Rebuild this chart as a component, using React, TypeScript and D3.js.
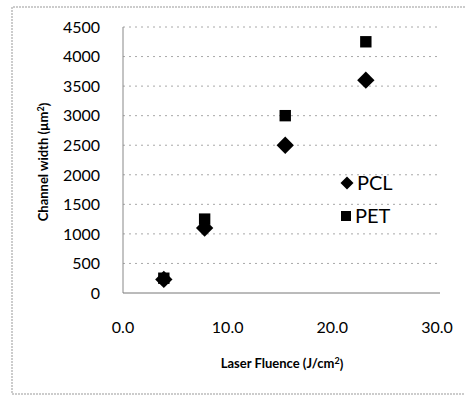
import React, { useEffect, useRef } from 'react';
import * as d3 from 'd3';

const fluence = [3.9, 7.8, 15.5, 23.2];
const pcl = [230, 1100, 2500, 3600];
const pet = [250, 1250, 3000, 4250];
const xTicks = [0, 10, 20, 30];
const yTicks = [0, 500, 1000, 1500, 2000, 2500, 3000, 3500, 4000, 4500];

const font = 'Lato, "Open Sans", sans-serif';

const App = () => {
  const ref = useRef<SVGSVGElement | null>(null);

  useEffect(() => {
    const svg = d3.select(ref.current);
    svg.selectAll('*').remove();

    const left = 123;
    const right = 437;
    const top = 27;
    const bottom = 293;

    const x = d3.scaleLinear().domain([0, 30]).range([left, right]);
    const y = d3.scaleLinear().domain([0, 4500]).range([bottom, top]);

    // outer frame (left, top, bottom only)
    svg.append('path')
      .attr('d', `M465,7 H12 V394 H465`)
      .attr('fill', 'none')
      .attr('stroke', '#999')
      .attr('stroke-width', 1)
      .attr('stroke-dasharray', '2,1');

    // grid
    svg.append('g')
      .selectAll('line')
      .data(yTicks.filter((d) => d > 0))
      .enter()
      .append('line')
      .attr('x1', left)
      .attr('x2', right)
      .attr('y1', (d) => y(d))
      .attr('y2', (d) => y(d))
      .attr('stroke', '#a8a8a8')
      .attr('stroke-width', 1)
      .attr('stroke-dasharray', '2,4');

    // axis lines
    svg.append('line')
      .attr('x1', left).attr('x2', left)
      .attr('y1', top).attr('y2', bottom)
      .attr('stroke', '#888').attr('stroke-width', 1);
    svg.append('line')
      .attr('x1', left).attr('x2', right + 3)
      .attr('y1', bottom).attr('y2', bottom)
      .attr('stroke', '#777').attr('stroke-width', 1);

    // y tick labels
    svg.append('g')
      .selectAll('text')
      .data(yTicks)
      .enter()
      .append('text')
      .attr('x', 100)
      .attr('y', (d) => y(d))
      .attr('dy', '0.36em')
      .attr('text-anchor', 'end')
      .style('font-family', font)
      .style('font-size', '16px')
      .style('fill', '#000')
      .text((d) => d);

    // x tick labels
    svg.append('g')
      .selectAll('text')
      .data(xTicks)
      .enter()
      .append('text')
      .attr('x', (d) => x(d))
      .attr('y', 327)
      .attr('dy', '0.36em')
      .attr('text-anchor', 'middle')
      .style('font-family', font)
      .style('font-size', '16px')
      .style('fill', '#000')
      .text((d) => d3.format('.1f')(d));

    // axis titles
    const xt = svg.append('text')
      .attr('x', 282)
      .attr('y', 363)
      .attr('dy', '0.36em')
      .attr('text-anchor', 'middle')
      .style('font-family', font)
      .style('font-size', '13px')
      .style('font-weight', 'bold')
      .style('fill', '#000');
    xt.append('tspan').text('Laser Fluence (J/cm');
    xt.append('tspan').attr('dy', '-0.4em').style('font-size', '9px').text('2');
    xt.append('tspan').attr('dy', '0.4em').text(')');

    const yt = svg.append('text')
      .attr('transform', 'translate(43,162) rotate(-90)')
      .attr('dy', '0.36em')
      .attr('text-anchor', 'middle')
      .style('font-family', font)
      .style('font-size', '13px')
      .style('font-weight', 'bold')
      .style('fill', '#000');
    yt.append('tspan').text('Channel width (µm');
    yt.append('tspan').attr('dy', '-0.4em').style('font-size', '9px').text('2');
    yt.append('tspan').attr('dy', '0.4em').text(')');

    const diamond = d3.symbol().type(d3.symbolSquare).size(150);
    const square = d3.symbol().type(d3.symbolSquare).size(130);

    // PET squares
    svg.append('g')
      .selectAll('path')
      .data(fluence.map((f, i) => [f, pet[i]]))
      .enter()
      .append('path')
      .attr('d', square() as string)
      .attr('transform', (d) => `translate(${x(d[0])},${y(d[1])})`)
      .attr('fill', '#000');

    // PCL diamonds
    svg.append('g')
      .selectAll('path')
      .data(fluence.map((f, i) => [f, pcl[i]]))
      .enter()
      .append('path')
      .attr('d', diamond() as string)
      .attr('transform', (d) => `translate(${x(d[0])},${y(d[1])}) rotate(45)`)
      .attr('fill', '#000');

    // legend
    const legend = svg.append('g');
    legend.append('path')
      .attr('d', d3.symbol().type(d3.symbolSquare).size(85)() as string)
      .attr('transform', 'translate(347,183) rotate(45)')
      .attr('fill', '#000');
    legend.append('text')
      .attr('x', 357).attr('y', 183).attr('dy', '0.36em')
      .style('font-family', font).style('font-size', '20px').style('fill', '#000')
      .text('PCL');
    legend.append('path')
      .attr('d', d3.symbol().type(d3.symbolSquare).size(100)() as string)
      .attr('transform', 'translate(346,216)')
      .attr('fill', '#000');
    legend.append('text')
      .attr('x', 355).attr('y', 216).attr('dy', '0.36em')
      .style('font-family', font).style('font-size', '20px').style('fill', '#000')
      .text('PET');
  }, []);

  return <svg ref={ref} width={466} height={396} style={{ display: 'block', position: 'absolute', left: 0, top: 0, background: '#fff' }} />;
};

export default App;
